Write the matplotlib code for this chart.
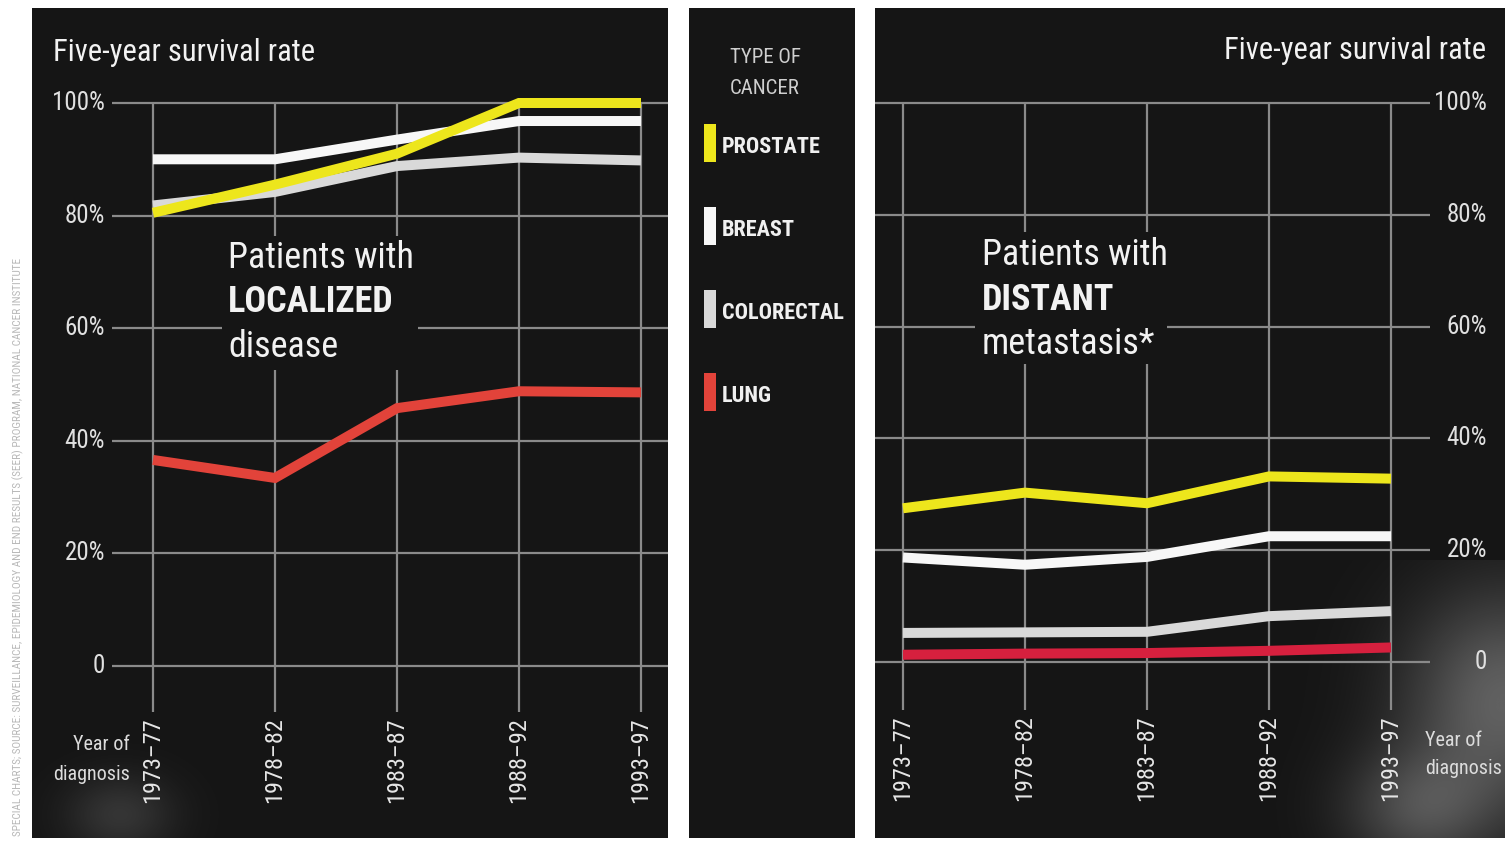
import numpy as np
import matplotlib
matplotlib.use("Agg")
import matplotlib.pyplot as plt
from matplotlib.patches import Rectangle

plt.rcParams['font.family'] = ['Roboto Condensed', 'IBM Plex Sans Condensed', 'DejaVu Sans']

periods = ["1973–77", "1978–82", "1983–87", "1988–92", "1993–97"]
cancer_types = ["PROSTATE", "BREAST", "COLORECTAL", "LUNG"]

# Five-year survival (%), patients with localized disease
local_prostate = [80.5, 85.5, 91.0, 100.0, 100.0]
local_breast = [90.0, 90.0, 93.5, 96.8, 96.8]
local_colorectal = [81.8, 84.2, 88.8, 90.3, 89.8]
local_lung = [36.6, 33.4, 45.8, 48.8, 48.6]

# Five-year survival (%), patients with distant metastasis
distant_prostate = [27.5, 30.3, 28.4, 33.2, 32.8]
distant_breast = [18.7, 17.4, 18.8, 22.5, 22.5]
distant_colorectal = [5.2, 5.3, 5.4, 8.2, 9.1]
distant_lung = [1.3, 1.5, 1.6, 2.0, 2.6]

y_ticks = [0, 20, 40, 60, 80, 100]
y_labels = ["0", "20%", "40%", "60%", "80%", "100%"]

W, H = 1505, 841
PANEL = "#151515"
GRID = "#8a8a8a"
TXT = "#f2f2f2"
colors = {"PROSTATE": "#ede61c", "BREAST": "#f7f7f7",
          "COLORECTAL": "#d9d9d9", "LUNG": "#e2433a"}
lung_dark = "#d6203e"

fig = plt.figure(figsize=(W / 100, H / 100), dpi=100, facecolor="white")


def px_axes(x0, y0, x1, y1):
    return fig.add_axes([x0 / W, 1 - y1 / H, (x1 - x0) / W, (y1 - y0) / H])


# Page-level layer in pixel units
bg = px_axes(0, 0, W, H)
bg.set_xlim(0, W)
bg.set_ylim(H, 0)
bg.axis("off")
for x0, x1 in [(32, 668), (689, 855), (875, 1505)]:
    bg.add_patch(Rectangle((x0, 8), x1 - x0, 830, facecolor=PANEL, edgecolor="none"))

# Smoky haze in the lower right corner of the right panel
gx, gy = np.meshgrid(np.linspace(1250, 1505, 260), np.linspace(560, 838, 280))
haze = np.exp(-(((gx - 1505) / 100) ** 2 + ((gy - 700) / 110) ** 2))
haze += 0.7 * np.exp(-(((gx - 1420) / 75) ** 2 + ((gy - 810) / 60) ** 2))
rgba = np.zeros(gx.shape + (4,))
rgba[..., :3] = 0.58
rgba[..., 3] = np.clip(haze, 0, 1) * 0.6
bg.imshow(rgba, extent=(1250, 1505, 838, 560), interpolation="bilinear", zorder=1)

# Faint haze in the lower left of the left panel
hx, hy = np.meshgrid(np.linspace(32, 260, 200), np.linspace(640, 838, 180))
h2 = np.exp(-(((hx - 120) / 55) ** 2 + ((hy - 815) / 40) ** 2))
rgba2 = np.zeros(hx.shape + (4,))
rgba2[..., :3] = 0.5
rgba2[..., 3] = h2 * 0.3
bg.imshow(rgba2, extent=(32, 260, 838, 640), interpolation="bilinear", zorder=1)

bg.text(18, 836, "SPECIAL CHARTS; SOURCE: SURVEILLANCE, EPIDEMIOLOGY AND END RESULTS (SEER) PROGRAM, NATIONAL CANCER INSTITUTE",
        rotation=90, ha="center", va="bottom", fontsize=8.1, color="#b8b8b8")


def survival_panel(x0, x1, first_px, step_px, zero_px, per_pct, series,
                   grid_x, label_x, label_ha, vgrid_bottom_px, tick_top_px, lung_color):
    ax = px_axes(x0, 8, x1, 838)
    ax.set_xlim((x0 - first_px) / step_px, (x1 - first_px) / step_px)
    ax.set_ylim((zero_px - 838) / per_pct, (zero_px - 8) / per_pct)
    ax.axis("off")
    ax.patch.set_visible(False)
    gx0 = (grid_x[0] - first_px) / step_px
    gx1 = (grid_x[1] - first_px) / step_px
    for v, lab in zip(y_ticks, y_labels):
        ax.plot([gx0, gx1], [v, v], color=GRID, lw=1.6, zorder=1, solid_capstyle="butt")
        ax.text((label_x - first_px) / step_px, v, lab, ha=label_ha, va="center",
                fontsize=18, color="#e0e0e0")
    vb = (zero_px - vgrid_bottom_px) / per_pct
    tt = (zero_px - tick_top_px) / per_pct
    for i, p in enumerate(periods):
        ax.plot([i, i], [vb, 100], color=GRID, lw=1.6, zorder=1, solid_capstyle="butt")
        ax.text(i, tt, p, rotation=90, ha="center", va="top", fontsize=17.5, color="#e6e6e6")
    xs = np.arange(len(periods))
    for name in ["COLORECTAL", "BREAST", "LUNG", "PROSTATE"]:
        c = lung_color if name == "LUNG" else colors[name]
        ax.plot(xs, series[name], color=c, lw=7.2, solid_capstyle="butt",
                solid_joinstyle="miter", zorder=4)
    return ax


axL = survival_panel(32, 668, 153, 122, 666, 5.63,
                     {"PROSTATE": local_prostate, "BREAST": local_breast,
                      "COLORECTAL": local_colorectal, "LUNG": local_lung},
                     grid_x=(112, 668), label_x=105, label_ha="right",
                     vgrid_bottom_px=712, tick_top_px=717, lung_color=colors["LUNG"])

axR = survival_panel(875, 1505, 903, 122, 662, 5.59,
                     {"PROSTATE": distant_prostate, "BREAST": distant_breast,
                      "COLORECTAL": distant_colorectal, "LUNG": distant_lung},
                     grid_x=(875, 1430), label_x=1487, label_ha="right",
                     vgrid_bottom_px=710, tick_top_px=715, lung_color=lung_dark)

# Titles
axL.text(53, 52, "Five-year survival rate", transform=bg.transData, ha="left", va="center",
         fontsize=22, color=TXT)
axR.text(1486, 50, "Five-year survival rate", transform=bg.transData, ha="right", va="center",
         fontsize=22, color=TXT)

# Panel captions, with a dark mask behind them over the grid
for ax, x, lines, box in [
        (axL, 228, [("Patients with", "normal"), ("LOCALIZED", "bold"), ("disease", "normal")],
         (222, 236, 196, 134)),
        (axR, 982, [("Patients with", "normal"), ("DISTANT", "bold"), ("metastasis*", "normal")],
         (975, 232, 192, 132))]:
    ax.add_patch(Rectangle(box[:2], box[2], box[3], transform=bg.transData,
                           facecolor=PANEL, edgecolor="none", zorder=2))
    base = 258 if ax is axL else 255
    for k, (s, wt) in enumerate(lines):
        ax.text(x, base + k * 44.5, s, transform=bg.transData, ha="left", va="center",
                fontsize=26, fontweight=wt, color=TXT, zorder=3)

# "Year of diagnosis" notes
axL.text(130, 745, "Year of", transform=bg.transData, ha="right", va="center", fontsize=14.5, color="#dcdcdc")
axL.text(130, 775, "diagnosis", transform=bg.transData, ha="right", va="center", fontsize=14.5, color="#dcdcdc")
axR.text(1425, 740, "Year of", transform=bg.transData, ha="left", va="center", fontsize=14.5, color="#dcdcdc")
axR.text(1425, 768, "diagnosis", transform=bg.transData, ha="left", va="center", fontsize=14.5, color="#dcdcdc")

# Legend column
bg.text(765, 57, "TYPE OF", ha="center", va="center", fontsize=15, color="#cfcfcf", zorder=3)
bg.text(765, 88, "CANCER", ha="center", va="center", fontsize=15, color="#cfcfcf", zorder=3)
for k, name in enumerate(cancer_types):
    yc = 143 + k * 83
    bg.add_patch(Rectangle((704, yc - 19), 12, 38, facecolor=colors[name], edgecolor="none", zorder=3))
    bg.text(722, yc + 4, name, ha="left", va="center", fontsize=16, fontweight="bold",
            color="#f0f0f0", zorder=3)

fig.savefig("out.png", dpi=100, facecolor="white")
